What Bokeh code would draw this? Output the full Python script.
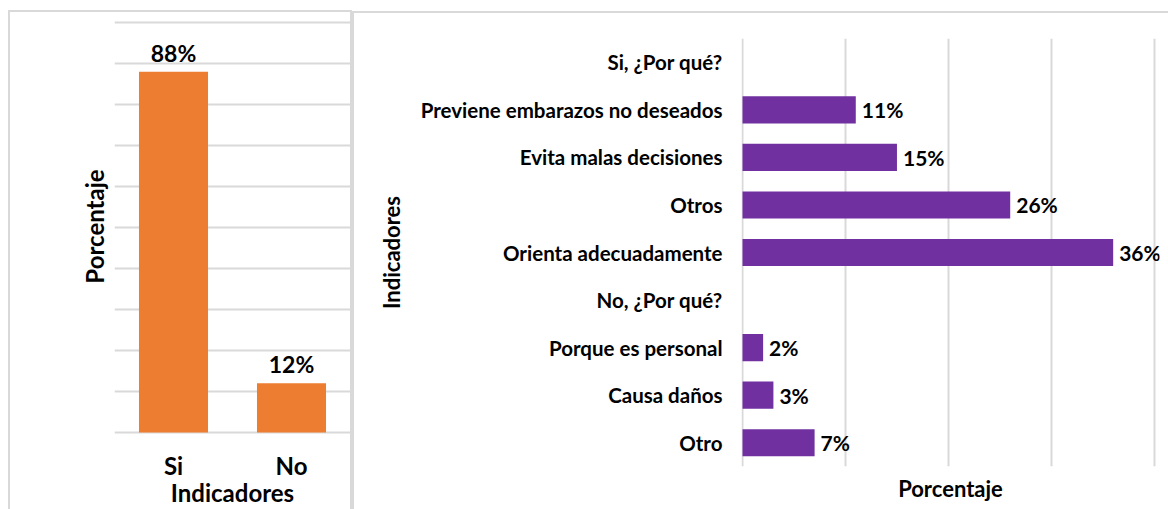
from bokeh.plotting import figure
from bokeh.models import (FactorRange, Range1d, FixedTicker, ColumnDataSource,
                          LabelSet)
from bokeh.layouts import row
from bokeh.core.properties import value
from bokeh.embed import file_html
from bokeh.resources import INLINE

# ---------------- data ----------------
answer_categories = ["Si", "No"]
answer_percent = [88, 12]
answer_labels = ["88%", "12%"]
left_grid_ticks = [0, 10, 20, 30, 40, 50, 60, 70, 80, 90, 100]

reason_categories = [
    "Si, ¿Por qué?",
    "Previene embarazos no deseados",
    "Evita malas decisiones",
    "Otros",
    "Orienta adecuadamente",
    "No, ¿Por qué?",
    "Porque es personal",
    "Causa daños",
    "Otro",
]
reason_percent = [None, 11, 15, 26, 36, None, 2, 3, 7]
right_grid_ticks = [0, 10, 20, 30, 40]

FONT = "Lato"
GRID = "#D9D9D9"
ORANGE = "#ED7D31"
PURPLE = "#7030A0"
TXT = "#000000"

# ---------------- left chart ----------------
src1 = ColumnDataSource(dict(cat=answer_categories, val=answer_percent, lab=answer_labels))

p1 = figure(x_range=FactorRange(factors=answer_categories), y_range=Range1d(-0.5, 101),
            width=352, height=509, output_backend="svg", toolbar_location=None,
            min_border_left=114, min_border_right=2, min_border_top=18, min_border_bottom=75)
p1.frame_align = False
p1.vbar(x="cat", top="val", width=0.585, source=src1, color=ORANGE, line_color=None)
p1.add_layout(LabelSet(x="cat", y="val", text="lab", source=src1, text_align="center",
                       text_baseline="bottom", y_offset=5, text_font=value(FONT),
                       text_font_style="bold", text_font_size="23px", text_color=TXT))

p1.xgrid.visible = False
p1.ygrid.ticker = FixedTicker(ticks=left_grid_ticks)
p1.ygrid.grid_line_color = GRID
p1.ygrid.grid_line_width = 2
p1.yaxis.ticker = FixedTicker(ticks=[])
p1.yaxis.axis_line_color = None
p1.yaxis.major_tick_line_color = None
p1.yaxis.minor_tick_line_color = None
p1.yaxis.axis_label = "Porcentaje"
p1.yaxis.axis_label_standoff = 6
p1.yaxis.axis_label_text_font = FONT
p1.yaxis.axis_label_text_font_style = "bold"
p1.yaxis.axis_label_text_font_size = "24px"
p1.yaxis.axis_label_text_color = TXT

p1.xaxis.axis_line_color = None
p1.xaxis.major_tick_line_color = None
p1.xaxis.major_tick_out = 0
p1.xaxis.major_tick_in = 0
p1.xaxis.major_label_standoff = 16
p1.xaxis.major_label_text_font = FONT
p1.xaxis.major_label_text_font_style = "bold"
p1.xaxis.major_label_text_font_size = "24px"
p1.xaxis.major_label_text_color = TXT
p1.xaxis.axis_label = "Indicadores"
p1.xaxis.axis_label_standoff = -5
p1.xaxis.axis_label_text_font = FONT
p1.xaxis.axis_label_text_font_style = "bold"
p1.xaxis.axis_label_text_font_size = "24px"
p1.xaxis.axis_label_text_color = TXT

p1.outline_line_color = None
p1.background_fill_color = None
p1.border_fill_color = None
p1.styles = {"box-shadow": "inset 8px 0 0 0 #FFFFFF, inset 0 10px 0 0 #FFFFFF, "
                           "inset -2px 0 0 0 #D9D9D9, inset 10px 0 0 0 #D9D9D9, "
                           "inset 0 12px 0 0 #D9D9D9"}

# ---------------- right chart ----------------
rows = [(c, v) for c, v in zip(reason_categories, reason_percent) if v is not None]
src2 = ColumnDataSource(dict(cat=[r[0] for r in rows], val=[r[1] for r in rows],
                             lab=[f"{r[1]}%" for r in rows]))

p2 = figure(y_range=FactorRange(factors=list(reversed(reason_categories))),
            x_range=Range1d(-0.1, 40.5),
            width=816, height=509, output_backend="svg", toolbar_location=None,
            min_border_left=389, min_border_right=9, min_border_top=38, min_border_bottom=43)
p2.frame_align = False
p2.hbar(y="cat", left=0, right="val", height=0.57, source=src2, color=PURPLE, line_color=None)
p2.add_layout(LabelSet(x="val", y="cat", text="lab", source=src2, text_align="left",
                       text_baseline="middle", x_offset=6, text_font=value(FONT),
                       text_font_style="bold", text_font_size="21px", text_color=TXT))

p2.ygrid.visible = False
p2.xgrid.ticker = FixedTicker(ticks=right_grid_ticks)
p2.xgrid.grid_line_color = GRID
p2.xgrid.grid_line_width = 2

p2.xaxis.ticker = FixedTicker(ticks=[])
p2.xaxis.axis_line_color = None
p2.xaxis.major_tick_line_color = None
p2.xaxis.minor_tick_line_color = None
p2.xaxis.axis_label = "Porcentaje"
p2.xaxis.axis_label_standoff = 8
p2.xaxis.axis_label_text_font = FONT
p2.xaxis.axis_label_text_font_style = "bold"
p2.xaxis.axis_label_text_font_size = "22px"
p2.xaxis.axis_label_text_color = TXT

p2.yaxis.axis_line_color = None
p2.yaxis.major_tick_line_color = None
p2.yaxis.major_tick_out = 0
p2.yaxis.major_tick_in = 0
p2.yaxis.major_label_standoff = 19
p2.yaxis.major_label_text_font = FONT
p2.yaxis.major_label_text_font_style = "bold"
p2.yaxis.major_label_text_font_size = "20.5px"
p2.yaxis.major_label_text_color = TXT
p2.yaxis.axis_label = "Indicadores"
p2.yaxis.axis_label_standoff = 13
p2.yaxis.axis_label_text_font = FONT
p2.yaxis.axis_label_text_font_style = "bold"
p2.yaxis.axis_label_text_font_size = "22px"
p2.yaxis.axis_label_text_color = TXT

p2.outline_line_color = None
p2.background_fill_color = None
p2.border_fill_color = None
p2.styles = {"box-shadow": "inset 0 11px 0 0 #FFFFFF, inset 2px 0 0 0 #D9D9D9, "
                           "inset 0 13px 0 0 #D9D9D9"}

layout = row(p1, p2)
open("out.html", "w").write(file_html(layout, INLINE))
